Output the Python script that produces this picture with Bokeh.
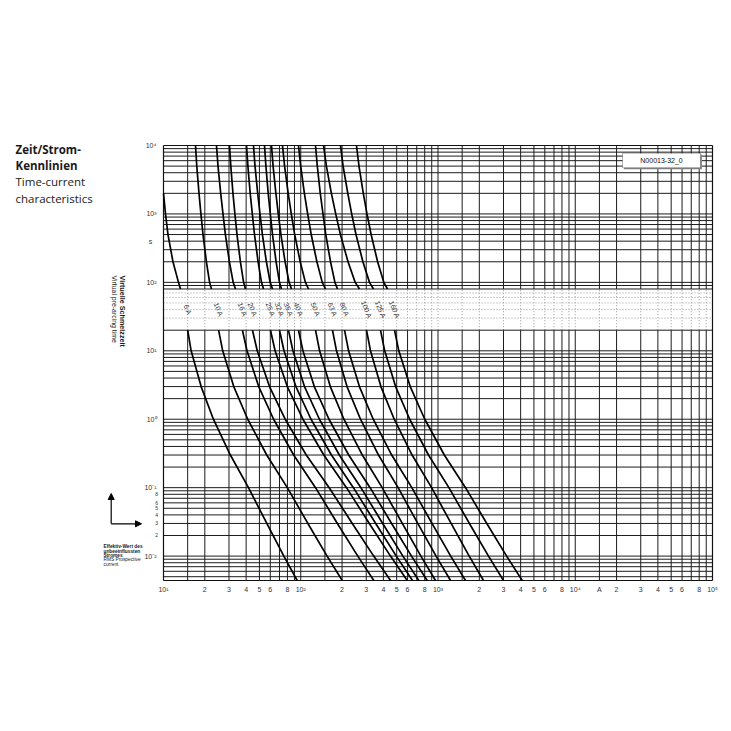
import math
from bokeh.plotting import figure
from bokeh.models import Label, Arrow, NormalHead, BoxAnnotation, Range1d
from bokeh.embed import file_html
from bokeh.resources import INLINE
from bokeh.core.properties import value

nan = float("nan")

FUSES = ["6 A", "10 A", "16 A", "20 A", "25 A", "32 A", "35 A", "40 A",
         "50 A", "63 A", "80 A", "100 A", "125 A", "160 A"]

# pre-arcing time (s) levels for the part of each curve above the label band
T_UPPER = [1e4, 5e3, 2e3, 1e3, 500, 200, 100, 80]
I_UPPER = {
    "6 A":   [nan, nan, 10.0, 10.34, 10.78, 11.72, 12.86, 13.3],
    "10 A":  [17.11, 17.48, 18.14, 18.73, 19.40, 20.54, 21.67, 22.37],
    "16 A":  [24.33, 24.95, 26.11, 27.13, 28.25, 30.21, 32.19, 33.46],
    "20 A":  [30.26, 30.93, 32.07, 33.13, 34.31, 36.34, 38.34, 39.58],
    "25 A":  [40.25, 41.20, 42.83, 44.36, 46.03, 48.90, 51.76, 53.53],
    "32 A":  [45.26, 46.42, 48.57, 50.48, 52.55, 56.19, 59.89, 62.27],
    "35 A":  [54.44, 55.73, 57.92, 59.99, 62.27, 66.14, 70.00, 72.38],
    "40 A":  [61.22, 62.87, 65.90, 68.61, 71.68, 76.91, 82.27, 85.65],
    "50 A":  [73.62, 76.26, 81.02, 85.33, 90.34, 99.08, 108.1, 113.9],
    "63 A":  [96.3, 99.9, 106.3, 112.3, 119.2, 131.1, 143.5, 151.4],
    "80 A":  [128.1, 132.0, 138.8, 145.2, 152.2, 164.8, 177.4, 185.3],
    "100 A": [146.5, 153.8, 167.2, 179.8, 194.5, 221.0, 249.3, 268.0],
    "125 A": [194.8, 203.5, 220.2, 235.0, 252.6, 283.7, 316.9, 338.9],
    "160 A": [254.7, 265.7, 285.6, 303.8, 325.6, 363.1, 402.9, 428.7],
}

# pre-arcing time (s) levels for the part of each curve below the label band
T_LOWER = [20, 10, 3, 1, 0.3, 0.1, 0.03, 0.01, 0.0044]
I_LOWER = {
    "6 A":   [15.0, 15.9, 18.8, 23.1, 30.7, 41.6, 56.6, 75.3, 94.2],
    "10 A":  [25.2, 27.0, 32.5, 41.1, 56.5, 79.8, 112.7, 155.6, 200.5],
    "16 A":  [37.6, 40.6, 49.4, 63.4, 88.8, 128.1, 184.9, 260.4, 340.6],
    "20 A":  [44.5, 48.2, 59.2, 77.0, 109.7, 161.2, 237.4, 340.1, 450.8],
    "25 A":  [60.2, 65.0, 79.8, 103.7, 147.2, 215.4, 315.9, 450.8, 596.6],
    "32 A":  [70.0, 75.5, 92.2, 118.8, 167.3, 241.9, 351.7, 496.9, 651.9],
    "35 A":  [81.4, 87.7, 106.5, 136.8, 191.0, 274.4, 395.5, 555.0, 724.6],
    "40 A":  [96.3, 103.7, 125.5, 160.6, 223.6, 320.2, 459.2, 641.2, 834.4],
    "50 A":  [128.1, 137.2, 164.2, 206.3, 280.9, 392.1, 549.5, 750.7, 959.0],
    "63 A":  [170.3, 182.2, 217.3, 272.5, 368.6, 512.1, 712.4, 968.7, 1234.0],
    "80 A":  [208.4, 223.2, 267.5, 337.3, 459.9, 644.6, 904.3, 1237.5, 1586.0],
    "100 A": [301.4, 322.3, 383.7, 479.7, 647.6, 898.4, 1246.0, 1688.0, 2145.0],
    "125 A": [381.1, 409.0, 491.0, 622.0, 852.6, 1200.8, 1694.0, 2334.0, 3001.0],
    "160 A": [482.2, 518.1, 627.4, 801.4, 1111.8, 1586.0, 2268.0, 3162.0, 4108.0],
}

BAND = (20, 80)          # label band (s)
LABEL_T = 40             # time at which the rating labels sit

X_TICKS = [10, 20, 30, 40, 50, 60, 80,
           100, 200, 300, 400, 500, 600, 800,
           1000, 2000, 3000, 4000, 5000, 6000, 8000,
           10000, 15000, 20000, 30000, 40000, 50000, 60000, 80000, 100000]
X_TICK_LABELS = ["10¹", "2", "3", "4", "5", "6", "8",
                 "10²", "2", "3", "4", "5", "6", "8",
                 "10³", "2", "3", "4", "5", "6", "8",
                 "10⁴", "A", "2", "3", "4", "5", "6", "8", "10⁵"]
Y_TICKS = [1e4, 1e3, 1e2, 1e1, 1e0, 1e-1, 1e-2]
Y_TICK_LABELS = ["10⁴", "10³", "10²", "10¹", "10⁰", "10⁻¹", "10⁻²"]
Y_UNIT_TICK = 400
Y_UNIT_LABEL = "s"
Y_MINOR_TICKS = [0.08, 0.06, 0.05, 0.04, 0.03, 0.02]
Y_MINOR_LABELS = ["8", "6", "5", "4", "3", "2"]

X_MIN, X_MAX = 10, 1e5
Y_MIN, Y_MAX = 0.0044, 1e4

# ---- page geometry (pixels): chart frame inside a full-page canvas
W = H = 731
F_LEFT, F_RIGHT, F_TOP, F_BOTTOM = 163, 712, 145, 580
dec_x = (F_RIGHT - F_LEFT) / (math.log10(X_MAX) - math.log10(X_MIN))
dec_y = (F_BOTTOM - F_TOP) / (math.log10(Y_MAX) - math.log10(Y_MIN))
x_range = Range1d(10 ** (math.log10(X_MIN) - F_LEFT / dec_x),
                  10 ** (math.log10(X_MAX) + (W - F_RIGHT) / dec_x))
y_range = Range1d(10 ** (math.log10(Y_MIN) - (H - F_BOTTOM) / dec_y),
                  10 ** (math.log10(Y_MAX) + F_TOP / dec_y))

p = figure(width=W, height=H, x_axis_type="log", y_axis_type="log",
           x_range=x_range, y_range=y_range,
           x_axis_location=None, y_axis_location=None, min_border=0,
           output_backend="svg", toolbar_location=None,
           background_fill_color="white", border_fill_color="white")
p.grid.visible = False
p.outline_line_color = None

def sy(y_px):  # screen y (from bottom) for a page pixel row
    return H - y_px

# ---- grid (solid outside the label band, dotted inside it)
GRID_MULT_X = [1, 1.5, 2, 3, 4, 5, 6, 7, 8, 9]
GRID_MULT_Y = [1, 2, 3, 4, 5, 6, 7, 8, 9]
xg = [m * 10 ** e for e in range(1, 5) for m in GRID_MULT_X][1:]
yg = [m * 10.0 ** e for e in range(-3, 4) for m in GRID_MULT_Y]
yg = [v for v in yg if Y_MIN < v < Y_MAX]
lo, hi = BAND
n = len(xg)
GRID_COLOR = "#1c1c1c"
DOT_COLOR = "#9a9a9a"
p.segment(x0=xg + xg, y0=[Y_MIN] * n + [hi] * n, x1=xg + xg, y1=[lo] * n + [Y_MAX] * n,
          line_color=GRID_COLOR, line_width=1)
p.segment(x0=xg, y0=[lo] * n, x1=xg, y1=[hi] * n,
          line_color=DOT_COLOR, line_width=1, line_dash="1 2")
ys_solid = [v for v in yg if not (lo < v < hi)]
ys_dot = [v for v in yg if lo < v < hi]
p.segment(x0=[X_MIN] * len(ys_solid), y0=ys_solid, x1=[X_MAX] * len(ys_solid), y1=ys_solid,
          line_color=GRID_COLOR, line_width=1)
p.segment(x0=[X_MIN] * len(ys_dot), y0=ys_dot, x1=[X_MAX] * len(ys_dot), y1=ys_dot,
          line_color=DOT_COLOR, line_width=1, line_dash="1 2")
# frame border
p.segment(x0=[X_MIN, X_MAX, X_MIN, X_MIN], y0=[Y_MIN, Y_MIN, Y_MIN, Y_MAX],
          x1=[X_MIN, X_MAX, X_MAX, X_MAX], y1=[Y_MAX, Y_MAX, Y_MIN, Y_MAX],
          line_color="#111111", line_width=1.2)

# ---- curves
xs, ys = [], []
for f in FUSES:
    up = [(i, t) for i, t in zip(I_UPPER[f], T_UPPER) if not math.isnan(i)]
    xs.append([a for a, _ in up]); ys.append([b for _, b in up])
    xs.append(list(I_LOWER[f])); ys.append(list(T_LOWER))
p.multi_line(xs=xs, ys=ys, line_color="black", line_width=1.7)

# ---- rating labels in the band
p.text(x=[I_LOWER[f][0] for f in FUSES], y=[LABEL_T] * len(FUSES), text=FUSES,
       angle=-1.19, text_align="center", text_baseline="middle",
       text_font=value("Liberation Sans"), text_font_size="7px", text_color="#333333")

# ---- tick labels
TICK_FONT = "Liberation Sans"
for t, l in zip(X_TICKS, X_TICK_LABELS):
    p.add_layout(Label(x=t, y=sy(589), x_units="data", y_units="screen", text=l,
                       text_align="center", text_baseline="middle",
                       text_font=TICK_FONT, text_font_size="7px", text_color="#333333"))
for t, l in zip(Y_TICKS, Y_TICK_LABELS):
    p.add_layout(Label(x=156, y=t, x_units="screen", y_units="data", text=l,
                       text_align="right", text_baseline="middle",
                       text_font=TICK_FONT, text_font_size="7px", text_color="#333333"))
p.add_layout(Label(x=150, y=Y_UNIT_TICK, x_units="screen", y_units="data", text=Y_UNIT_LABEL,
                   text_align="center", text_baseline="middle",
                   text_font=TICK_FONT, text_font_size="7px", text_color="#333333"))
for t, l in zip(Y_MINOR_TICKS, Y_MINOR_LABELS):
    p.add_layout(Label(x=157.5, y=t, x_units="screen", y_units="data", text=l,
                       text_align="right", text_baseline="middle",
                       text_font=TICK_FONT, text_font_size="5px", text_color="#333333"))

# ---- document id box
p.add_layout(BoxAnnotation(left=623.5, right=701.5, top=sy(154), bottom=sy(168.8),
                           left_units="screen", right_units="screen", top_units="screen",
                           bottom_units="screen", fill_color="#8a8a8a", fill_alpha=1,
                           line_color=None))
p.add_layout(BoxAnnotation(left=622, right=700, top=sy(152.7), bottom=sy(167.3),
                           left_units="screen", right_units="screen", top_units="screen",
                           bottom_units="screen", fill_color="white", fill_alpha=1,
                           line_color="black", line_width=1))
p.add_layout(Label(x=661, y=sy(160), x_units="screen", y_units="screen", text="N00013-32_0",
                   text_align="center", text_baseline="middle",
                   text_font="Liberation Sans", text_font_size="7px", text_color="#111111"))

# ---- left-side texts
TITLE = [("Zeit/Strom-", "bold", 149), ("Kennlinien", "bold", 165.2),
         ("Time-current", "normal", 181.4), ("characteristics", "normal", 197.6)]
for txt, st, base in TITLE:
    p.add_layout(Label(x=15, y=sy(base), x_units="screen", y_units="screen", text=txt,
                       text_align="left", text_baseline="alphabetic",
                       text_font="Open Sans", text_font_style=st, text_font_size="11.5px",
                       text_color="#1a1a1a"))

p.add_layout(Label(x=121.5, y=sy(275), x_units="screen", y_units="screen",
                   text="Virtuelle Schmelzzeit", angle=-math.pi / 2,
                   text_align="left", text_baseline="middle",
                   text_font="Liberation Sans", text_font_style="bold", text_font_size="7.2px",
                   text_color="#1a1a1a"))
p.add_layout(Label(x=113.5, y=sy(275), x_units="screen", y_units="screen",
                   text="Virtual pre-arcing time", angle=-math.pi / 2,
                   text_align="left", text_baseline="middle",
                   text_font="Liberation Sans", text_font_size="6.9px", text_color="#1a1a1a"))

for xe, ye in ((110.7, 493), (141, 523.3)):
    p.add_layout(Arrow(end=NormalHead(size=6, fill_color="black", line_color="black"),
                       x_start=110.7, y_start=sy(523.3), x_end=xe, y_end=sy(ye),
                       start_units="screen", end_units="screen",
                       line_width=1.2, line_color="black"))

NOTE = [("Effektiv-Wert des", "bold", 546), ("unbeeinflussten", "bold", 550.5),
        ("Stromes", "bold", 554.8), ("RMS Prospective", "normal", 559.2),
        ("current", "normal", 563.5)]
for txt, st, yc in NOTE:
    p.add_layout(Label(x=103, y=sy(yc), x_units="screen", y_units="screen", text=txt,
                       text_align="left", text_baseline="middle",
                       text_font="Liberation Sans", text_font_style=st, text_font_size="4.8px",
                       text_color="#1a1a1a"))

open("out.html", "w").write(file_html(p, INLINE))
